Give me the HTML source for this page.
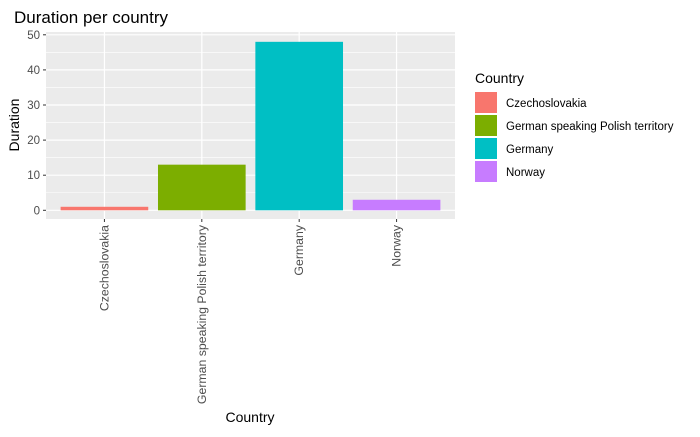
<!DOCTYPE html>
<html><head><meta charset="utf-8"><style>
body{margin:0;background:#fff;font-family:"Liberation Sans",Arial,sans-serif}
svg text{font-family:"Liberation Sans",Arial,sans-serif}
</style></head><body>
<svg width="700" height="432" xmlns="http://www.w3.org/2000/svg">
<text x="14" y="23" font-size="17" fill="#000">Duration per country</text>
<rect x="46" y="32" width="409" height="187" fill="#ebebeb"/>
<g id="grid"></g><g id="bars"></g><g id="yaxis"></g><g id="xaxis"></g>
<text transform="translate(19,125) rotate(-90)" text-anchor="middle" font-size="14">Duration</text>
<text x="250" y="422" text-anchor="middle" font-size="14">Country</text>
<g>
<text x="475" y="83" font-size="14">Country</text>
<g id="legend"></g>
</g>
</svg>
<script>
const categories=["Czechoslovakia","German speaking Polish territory","Germany","Norway"];
const values=[1,13,48,3];
const colors=["#F8766D","#7CAE00","#00BFC4","#C77CFF"];
const yTicks=[0,10,20,30,40,50];
const NS="http://www.w3.org/2000/svg";
const px0=46,pw=409,y0=210.3,perUnit=3.51;
const band=pw/(categories.length-1+1.2);
function x(i){return px0+band*(0.6+i);}
function y(v){return y0-v*perUnit;}
function mk(t,a,p){const e=document.createElementNS(NS,t);for(const k in a)e.setAttribute(k,a[k]);p.appendChild(e);return e;}
const g=document.getElementById('grid');
yTicks.forEach((t,i)=>{
 if(i<yTicks.length-1){mk('line',{x1:46,x2:455,y1:y(t+5),y2:y(t+5),stroke:'#fff','stroke-width':0.6},g);}
 const l=mk('line',{x1:46,x2:455,y1:y(t),y2:y(t),stroke:'#fff','stroke-width':1.2},g);
 
 
});
categories.forEach((c,i)=>{mk('line',{x1:x(i),x2:x(i),y1:32,y2:219,stroke:'#fff','stroke-width':1.2},g);});
const b=document.getElementById('bars');
values.forEach((v,i)=>{
 const r=mk('rect',{x:x(i)-band*0.45,width:band*0.9,y:y(v),height:y(0)-y(v),fill:colors[i]},b);
 
 
});
const ya=document.getElementById('yaxis');
yTicks.forEach(t=>{
 mk('line',{x1:43,x2:46,y1:y(t),y2:y(t),stroke:'#333','stroke-width':1},ya);
 const tx=mk('text',{x:40,y:y(t)+4,'text-anchor':'end','font-size':11.5,fill:'#4d4d4d'},ya);
 tx.textContent=t;
 
 
});
const xa=document.getElementById('xaxis');
categories.forEach((c,i)=>{
 mk('line',{x1:x(i),x2:x(i),y1:219,y2:222,stroke:'#333','stroke-width':1},xa);
 const tx=mk('text',{transform:`translate(${x(i)+4},225) rotate(-90)`,'text-anchor':'end','font-size':12.3,fill:'#4d4d4d'},xa);
 tx.textContent=c;
 
 
});
const lg=document.getElementById('legend');
categories.forEach((c,i)=>{
 const yy=92+i*23;
 const r=mk('rect',{x:475,y:yy,width:22,height:21,fill:colors[i]},lg);
 
 
 const t=mk('text',{x:506,y:yy+15,'font-size':11.5,fill:'#000'},lg);
 t.textContent=c;
 
 
});
</script>
</body></html>
